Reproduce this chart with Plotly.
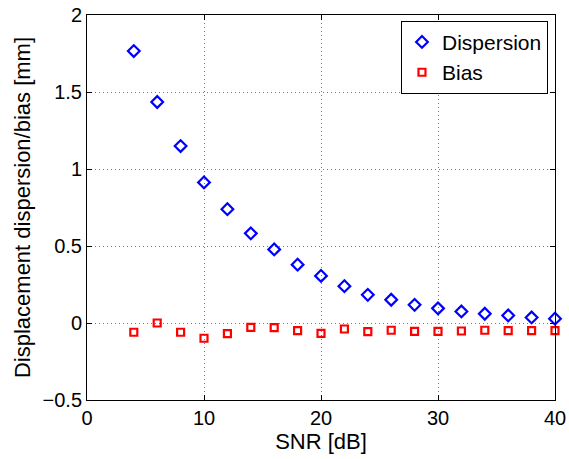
import plotly.graph_objects as go

snr_db = [4, 6, 8, 10, 12, 14, 16, 18, 20, 22, 24, 26, 28, 30, 32, 34, 36, 38, 40]
dispersion_mm = [1.766, 1.435, 1.149, 0.913, 0.739, 0.582, 0.478, 0.379, 0.306, 0.239,
                 0.183, 0.151, 0.118, 0.095, 0.075, 0.060, 0.049, 0.036, 0.028]
bias_mm = [-0.060, 0.000, -0.060, -0.099, -0.069, -0.028, -0.030, -0.050, -0.067, -0.039,
           -0.056, -0.047, -0.054, -0.054, -0.052, -0.047, -0.050, -0.050, -0.050]

x_ticks = [0, 10, 20, 30, 40]
y_ticks = [-0.5, 0, 0.5, 1, 1.5, 2]
y_tick_text = ["\u22120.5", "0", "0.5", "1", "1.5", "2"]

font_family = "Liberation Sans, Arial, Helvetica, sans-serif"

fig = go.Figure()
fig.add_trace(go.Scatter(
    x=snr_db, y=dispersion_mm, mode="markers", name="Dispersion",
    marker=dict(symbol="diamond-open", size=9, color="#0000ff", line=dict(width=2.2, color="#0000ff")),
    cliponaxis=False,
))
fig.add_trace(go.Scatter(
    x=snr_db, y=bias_mm, mode="markers", name="Bias",
    marker=dict(symbol="square-open", size=7, color="#ff0000", line=dict(width=2.2, color="#ff0000")),
    cliponaxis=False,
))

axis_common = dict(
    showline=True, linecolor="black", linewidth=1, mirror="ticks",
    ticks="inside", ticklen=5, tickcolor="black", tickwidth=1,
    showgrid=True, gridcolor="#777777", griddash="1px,3px", gridwidth=1,
    zeroline=False, automargin=False,
    tickfont=dict(size=20, color="black", family=font_family),
)

fig.update_xaxes(
    range=[0, 40], tickvals=x_ticks, ticktext=[str(v) for v in x_ticks],
    title=dict(text="SNR [dB]", font=dict(size=22, color="black", family=font_family), standoff=1),
    **axis_common,
)
fig.update_yaxes(
    range=[-0.5, 2], tickvals=y_ticks, ticktext=y_tick_text,
    title=dict(text="Displacement dispersion/bias [mm]", font=dict(size=22, color="black", family=font_family), standoff=5),
    **axis_common,
)

fig.update_layout(
    width=569, height=459,
    margin=dict(l=87, r=14, t=15, b=59),
    paper_bgcolor="white", plot_bgcolor="white",
    font=dict(family=font_family, color="black"),
    showlegend=True,
    legend=dict(
        x=0.985, y=0.985, xanchor="right", yanchor="top",
        bgcolor="white", bordercolor="black", borderwidth=1,
        font=dict(size=21, color="black", family=font_family),
        itemwidth=30, tracegroupgap=0,
    ),
)

fig.write_html("out.html")
